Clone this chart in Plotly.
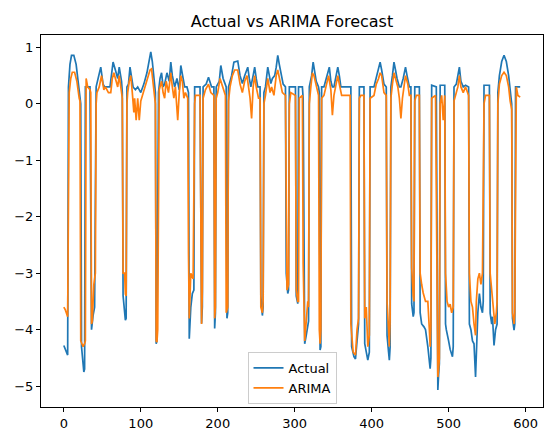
import plotly.graph_objects as go

actual_x = [0, 2, 5, 6, 8, 10, 13, 16, 20, 22, 23, 26, 27, 28, 34, 36, 38, 40, 42, 45, 48, 51, 53, 60, 62, 64, 67, 70, 72, 75, 76, 77, 80, 81, 82, 84, 86, 88, 90, 93, 96, 100, 104, 108, 111, 113, 115, 117, 119, 120, 121, 123, 125, 127, 129, 131, 134, 137, 139, 141, 144, 147, 150, 152, 154, 157, 160, 162, 163, 165, 167, 169, 170, 177, 179, 180, 181, 185, 188, 192, 195, 196, 197, 198, 202, 204, 207, 210, 211, 212, 213, 214, 218, 221, 226, 229, 232, 235, 239, 241, 243, 246, 248, 250, 252, 255, 256, 258, 259, 260, 262, 265, 267, 269, 271, 274, 276, 278, 280, 282, 285, 288, 289, 291, 292, 293, 301, 302, 304, 305, 310, 311, 312, 313, 315, 317, 318, 319, 322, 324, 326, 328, 331, 332, 333, 334, 335, 338, 341, 343, 345, 347, 349, 351, 353, 356, 358, 360, 373, 374, 377, 379, 381, 383, 384, 390, 391, 393, 395, 397, 398, 403, 406, 409, 411, 413, 416, 419, 420, 422, 423, 424, 425, 427, 429, 431, 433, 436, 438, 441, 444, 446, 449, 451, 452, 454, 455, 456, 462, 463, 465, 468, 470, 473, 476, 477, 478, 484, 485, 486, 487, 488, 489, 495, 496, 497, 500, 502, 505, 506, 507, 510, 512, 514, 516, 519, 522, 526, 527, 529, 531, 533, 535, 536, 538, 540, 542, 544, 545, 546, 553, 554, 556, 557, 559, 561, 563, 564, 566, 569, 572, 575, 578, 581, 582, 583, 585, 586, 587, 593]
actual_y = [-4.28, -4.35, -4.45, 0.3, 0.7, 0.86, 0.86, 0.7, 0.15, 0.0, -4.3, -4.75, -4.7, 0.3, 0.3, -4.0, -3.75, -3.6, 0.3, 0.45, 0.65, 0.35, 0.3, 0.3, 0.55, 0.74, 0.6, 0.45, 0.65, 0.4, 0.2, -3.4, -3.83, -3.8, 0.3, 0.35, 0.65, 0.45, 0.3, 0.25, 0.3, 0.2, 0.35, 0.55, 0.8, 0.92, 0.75, 0.45, 0.2, -4.25, -4.2, 0.2, 0.45, 0.55, 0.3, 0.35, 0.55, 0.4, 0.74, 0.5, 0.3, 0.45, 0.25, 0.68, 0.55, 0.3, 0.3, 0.2, -4.16, -3.6, -3.36, -3.3, 0.3, 0.3, -3.89, -3.6, 0.3, 0.35, 0.47, 0.3, 0.3, -3.98, -3.7, 0.3, 0.4, 0.68, 0.45, 0.3, 0.3, -3.8, -3.7, 0.3, 0.5, 0.74, 0.76, 0.5, 0.36, 0.5, 0.65, 0.45, 0.3, 0.5, 0.65, 0.45, 0.3, 0.3, -3.4, -3.75, -3.6, 0.2, 0.3, 0.65, 0.5, 0.36, 0.45, 0.5, 0.65, 0.86, 0.7, 0.55, 0.35, 0.3, -3.0, -3.36, -3.3, 0.3, 0.3, -3.4, -3.54, 0.3, 0.3, 0.1, -4.0, -4.25, -4.1, -3.9, -3.85, 0.3, 0.5, 0.74, 0.6, 0.4, 0.3, 0.2, -4.36, -4.3, 0.3, 0.3, 0.45, 0.55, 0.65, 0.4, 0.3, 0.3, 0.45, 0.65, 0.5, 0.3, 0.3, -4.3, -4.48, -4.52, -4.2, -3.9, 0.3, 0.3, -4.25, -4.4, -4.54, -4.4, 0.3, 0.3, 0.45, 0.6, 0.74, 0.6, 0.35, 0.3, -4.1, -4.4, -4.54, -4.3, 0.3, 0.5, 0.74, 0.6, 0.45, 0.3, 0.3, 0.45, 0.65, 0.5, 0.3, 0.3, -3.54, -3.77, -3.7, 0.3, 0.3, -3.7, -3.9, -3.95, -4.0, -4.3, -4.69, -4.5, 0.33, 0.3, -4.6, -5.07, -4.8, -4.6, 0.33, 0.33, -3.9, -4.0, -4.2, -4.35, -4.48, -4.3, 0.3, 0.35, 0.5, 0.65, 0.4, 0.3, 0.33, 0.3, -3.9, -4.0, -4.2, -4.25, -4.84, -4.5, -3.7, -3.36, -3.6, -3.7, -3.5, 0.33, 0.33, -3.71, -3.9, -3.77, -4.28, -4.0, -3.9, 0.2, 0.5, 0.75, 0.86, 0.75, 0.5, 0.12, 0.0, -3.8, -4.01, -3.9, 0.3, 0.3]

arima_x = [0, 2, 5, 6, 7, 9, 11, 14, 17, 20, 21, 22, 25, 27, 28, 29, 31, 34, 35, 36, 37, 39, 41, 42, 43, 46, 49, 52, 54, 58, 61, 63, 65, 68, 70, 72, 74, 76, 77, 79, 80, 81, 82, 83, 85, 87, 89, 91, 92, 94, 96, 98, 100, 103, 106, 109, 112, 114, 116, 118, 119, 120, 121, 122, 123, 124, 127, 129, 131, 133, 136, 139, 141, 143, 145, 148, 150, 152, 154, 156, 158, 161, 162, 163, 165, 168, 170, 171, 177, 178, 179, 180, 181, 184, 188, 191, 195, 196, 197, 198, 200, 203, 206, 210, 211, 213, 214, 216, 219, 222, 226, 229, 232, 235, 238, 240, 242, 244, 246, 248, 250, 253, 255, 256, 258, 259, 260, 262, 265, 268, 270, 273, 276, 278, 281, 284, 288, 289, 290, 292, 293, 295, 301, 302, 304, 305, 306, 310, 311, 313, 315, 317, 318, 319, 321, 323, 325, 328, 331, 332, 333, 334, 335, 338, 341, 344, 347, 349, 351, 354, 356, 358, 361, 372, 373, 376, 379, 381, 383, 384, 386, 390, 391, 393, 395, 397, 398, 403, 406, 409, 411, 413, 416, 419, 420, 422, 423, 424, 425, 427, 429, 431, 434, 436, 438, 440, 442, 444, 447, 449, 451, 452, 454, 455, 456, 458, 462, 463, 465, 467, 470, 473, 475, 476, 477, 478, 483, 485, 486, 487, 488, 489, 491, 493, 495, 496, 498, 500, 502, 504, 506, 507, 509, 512, 514, 516, 519, 522, 526, 527, 529, 531, 533, 535, 536, 538, 540, 542, 544, 546, 548, 553, 554, 556, 558, 560, 562, 563, 564, 566, 569, 572, 575, 578, 580, 582, 583, 585, 586, 587, 588, 590, 593]
arima_y = [-3.6, -3.65, -3.77, 0.0, 0.2, 0.45, 0.56, 0.56, 0.4, 0.1, 0.05, -4.2, -4.3, -4.25, -4.2, 0.45, 0.3, 0.25, 0.2, -3.9, -3.85, -3.2, -3.0, 0.0, 0.2, 0.3, 0.5, 0.25, 0.3, 0.2, 0.2, 0.45, 0.55, 0.4, 0.3, 0.5, 0.3, 0.1, -3.0, -3.0, -3.37, -3.4, 0.0, 0.2, 0.4, 0.5, 0.2, -0.15, 0.1, -0.29, 0.1, -0.29, 0.05, 0.2, 0.3, 0.45, 0.6, 0.62, 0.4, 0.1, 0.0, -4.2, -4.22, -4.0, 0.0, 0.25, 0.4, 0.2, 0.1, 0.4, 0.2, 0.55, 0.3, 0.1, 0.3, -0.29, 0.2, 0.5, 0.4, 0.1, 0.2, 0.1, -2.65, -3.8, -3.0, -3.1, 0.0, 0.15, 0.15, -3.5, -3.9, -3.3, 0.1, 0.25, 0.35, 0.2, 0.15, -3.8, -3.6, 0.1, 0.2, 0.45, 0.3, 0.15, -3.7, -3.6, 0.05, 0.3, 0.5, 0.6, 0.6, 0.35, 0.2, 0.4, 0.5, 0.3, 0.1, -0.26, 0.3, 0.5, 0.3, 0.1, 0.1, -3.6, -3.7, -3.5, 0.0, 0.15, 0.45, 0.2, 0.3, 0.15, 0.5, 0.6, 0.4, 0.2, 0.15, -2.77, -3.3, -3.2, 0.0, 0.2, 0.15, -3.3, -3.5, -3.5, 0.1, 0.15, -2.83, -4.2, -3.9, -3.5, -3.6, 0.0, 0.3, 0.55, 0.5, 0.3, 0.15, -4.0, -4.25, -4.0, 0.1, 0.15, 0.35, 0.5, 0.25, -0.2, 0.15, 0.4, 0.5, 0.35, 0.15, 0.15, -3.9, -4.4, -4.45, -4.0, -3.8, 0.1, 0.15, 0.15, -3.8, -3.6, -4.3, -4.1, 0.1, 0.15, 0.35, 0.45, 0.55, 0.5, 0.2, 0.15, -3.5, -4.0, -4.3, -3.8, 0.1, 0.35, 0.55, 0.45, 0.3, 0.1, -0.26, 0.1, 0.35, 0.5, 0.35, 0.15, 0.15, -2.9, -3.4, -3.5, 0.05, 0.15, 0.15, -3.0, -3.2, -3.35, -3.5, -3.5, -4.0, -4.3, -3.9, 0.1, 0.15, -4.5, -4.84, -4.7, -4.5, 0.0, 0.15, -0.29, 0.15, -3.0, -3.5, -3.6, -3.55, -3.7, -3.6, 0.05, 0.15, 0.3, 0.5, 0.3, 0.2, 0.3, 0.15, -3.0, -3.5, -3.6, -3.9, -4.1, -3.5, -3.1, -3.0, -3.2, -3.0, 0.0, 0.15, 0.15, -3.0, -3.3, -3.5, -3.9, -3.7, -3.5, 0.0, 0.35, 0.5, 0.56, 0.5, 0.3, 0.05, -0.1, -3.7, -3.9, -3.7, 0.0, 0.3, 0.15, 0.12]

title_text = "Actual vs ARIMA Forecast"
x_ticks = [0, 100, 200, 300, 400, 500, 600]
y_ticks = [-5, -4, -3, -2, -1, 0, 1]

fig = go.Figure()
fig.add_trace(go.Scatter(x=actual_x, y=actual_y, mode="lines", name="Actual",
                         line=dict(color="#1f77b4", width=1.7)))
fig.add_trace(go.Scatter(x=arima_x, y=arima_y, mode="lines", name="ARIMA",
                         line=dict(color="#ff7f0e", width=1.7)))

axis_common = dict(showgrid=False, zeroline=False, showline=True, mirror=True,
                   linecolor="black", linewidth=1, ticks="outside", ticklen=4,
                   tickwidth=1, tickcolor="black",
                   tickfont=dict(family="DejaVu Sans", size=13, color="black"))

fig.update_layout(
    width=544, height=432,
    margin=dict(l=41, r=1, t=35, b=25),
    paper_bgcolor="white", plot_bgcolor="white",
    title=dict(text=title_text, x=0.5, xref="paper", y=1, yref="paper",
               yanchor="bottom", pad=dict(b=8),
               font=dict(family="DejaVu Sans", size=16, color="black")),
    xaxis=dict(range=[-29.65, 622.65], tickvals=x_ticks, **axis_common),
    yaxis=dict(range=[-5.37, 1.22], tickvals=y_ticks, **axis_common),
    legend=dict(x=0.5, xanchor="center", y=0.008, yanchor="bottom",
                bgcolor="rgba(255,255,255,0.8)", bordercolor="#cccccc", borderwidth=1,
                font=dict(family="DejaVu Sans", size=13, color="black"),
                tracegroupgap=2),
    showlegend=True,
)

fig.write_html("out.html",
               config={"displayModeBar": False},
               post_script="document.body.style.margin='0';document.body.style.overflow='hidden';")
